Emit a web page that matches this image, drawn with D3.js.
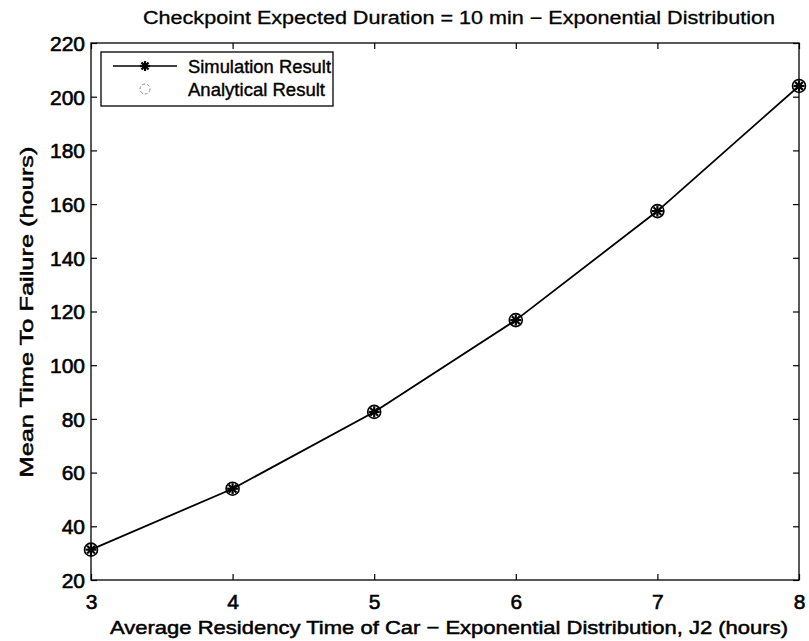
<!DOCTYPE html>
<html><head><meta charset="utf-8">
<script src="https://cdn.jsdelivr.net/npm/d3@7"></script>
<style>body{margin:0;background:#fff}svg{display:block}text{font-family:"Liberation Sans",Arial,sans-serif;fill:#000}</style>
</head><body><svg id="c" width="809" height="641"></svg>
<script>
const xValues = [3, 4, 5, 6, 7, 8];
const simulation = [31.3, 54, 82.6, 116.8, 157.4, 204];
const analytical = [31.3, 54, 82.6, 116.8, 157.4, 204];
const xTicks = [3, 4, 5, 6, 7, 8];
const yTicks = [20, 40, 60, 80, 100, 120, 140, 160, 180, 200, 220];
const titleText = "Checkpoint Expected Duration = 10 min \u2212 Exponential Distribution";
const xLabelText = "Average Residency Time of Car \u2212 Exponential Distribution, J2 (hours)";
const yLabelText = "Mean Time To Failure (hours)";
const legendLabels = ["Simulation Result", "Analytical Result"];

const svg = d3.select("#c");
const L = 91, R = 799, T = 43, B = 580;
const x = d3.scaleLinear().domain([3, 8]).range([L, R]);
const y = d3.scaleLinear().domain([20, 220]).range([B, T]);

function fit(sel, w) {
  sel.attr("textLength", w).attr("lengthAdjust", "spacingAndGlyphs");
}

// box
svg.append("rect").attr("x", L).attr("y", T).attr("width", R - L).attr("height", B - T)
  .attr("fill", "none").attr("stroke", "#000").attr("stroke-width", 1.3);

// axes with inward ticks
const tl = 6;
const gB = svg.append("g").attr("transform", `translate(0,${B})`)
  .call(d3.axisBottom(x).tickValues(xTicks).tickSize(-tl).tickPadding(14).tickFormat(d3.format("d")));
const gT = svg.append("g").attr("transform", `translate(0,${T})`)
  .call(d3.axisTop(x).tickValues(xTicks).tickSize(-tl).tickFormat(""));
const gL = svg.append("g").attr("transform", `translate(${L},0)`)
  .call(d3.axisLeft(y).tickValues(yTicks).tickSize(-tl).tickPadding(6).tickFormat(d3.format("d")));
const gR = svg.append("g").attr("transform", `translate(${R},0)`)
  .call(d3.axisRight(y).tickValues(yTicks).tickSize(-tl).tickFormat(""));
[gB, gT, gL, gR].forEach(g => {
  g.select(".domain").remove();
  g.selectAll("line").attr("stroke", "#000").attr("stroke-width", 1.2);
});
[gB, gL].forEach(g => g.selectAll("text").attr("font-size", 21)
  .attr("font-family", "Liberation Sans, Arial, sans-serif").attr("fill", "#000")
  .attr("stroke", "#000").attr("stroke-width", 0.6));
gB.selectAll("text").attr("dy", "0.71em");
gL.selectAll("text").attr("dy", "0.35em");

// line
const pts = xValues.map((d, i) => [d, simulation[i]]);
svg.append("path").datum(pts)
  .attr("d", d3.line().x(d => x(d[0])).y(d => y(d[1])))
  .attr("fill", "none").attr("stroke", "#000").attr("stroke-width", 1.8);

function star(g, cx, cy, r) {
  for (let k = 0; k < 4; k++) {
    const a = k * Math.PI / 4;
    g.append("line").attr("x1", cx - r * Math.cos(a)).attr("y1", cy - r * Math.sin(a))
      .attr("x2", cx + r * Math.cos(a)).attr("y2", cy + r * Math.sin(a))
      .attr("stroke", "#000").attr("stroke-width", 2.2);
  }
}
const mk = svg.append("g");
xValues.forEach((d, i) => {
  mk.append("circle").attr("cx", x(d)).attr("cy", y(analytical[i])).attr("r", 6.5)
    .attr("fill", "none").attr("stroke", "#000").attr("stroke-width", 1.6);
  star(mk, x(d), y(simulation[i]), 5.5);
});

// legend
const lg = svg.append("g");
lg.append("rect").attr("x", 101).attr("y", 52).attr("width", 232).attr("height", 54)
  .attr("fill", "#fff").attr("stroke", "#000").attr("stroke-width", 1.3);
lg.append("line").attr("x1", 113).attr("x2", 177).attr("y1", 66).attr("y2", 66)
  .attr("stroke", "#000").attr("stroke-width", 1.6);
star(lg, 145, 66, 5);
lg.append("circle").attr("cx", 145).attr("cy", 89).attr("r", 5)
  .attr("fill", "none").attr("stroke", "#888").attr("stroke-width", 1).attr("stroke-dasharray", "3,2");
lg.append("text").attr("x", 188).attr("y", 73).attr("font-size", 19).attr("stroke", "#000").attr("stroke-width", 0.4)
  .text(legendLabels[0]).call(fit, 143);
lg.append("text").attr("x", 188).attr("y", 96).attr("font-size", 19).attr("stroke", "#000").attr("stroke-width", 0.4)
  .text(legendLabels[1]).call(fit, 137);

// titles
svg.append("text").attr("x", 459).attr("y", 24).attr("text-anchor", "middle").attr("font-size", 18)
  .attr("stroke", "#000").attr("stroke-width", 0.3).text(titleText).call(fit, 632);
svg.append("text").attr("x", 449).attr("y", 634).attr("text-anchor", "middle").attr("font-size", 19)
  .attr("stroke", "#000").attr("stroke-width", 0.5).text(xLabelText).call(fit, 678);
svg.append("text").attr("transform", "translate(33,312) rotate(-90)").attr("text-anchor", "middle")
  .attr("font-size", 19).attr("stroke", "#000").attr("stroke-width", 0.5).text(yLabelText).call(fit, 331);
</script></body></html>
